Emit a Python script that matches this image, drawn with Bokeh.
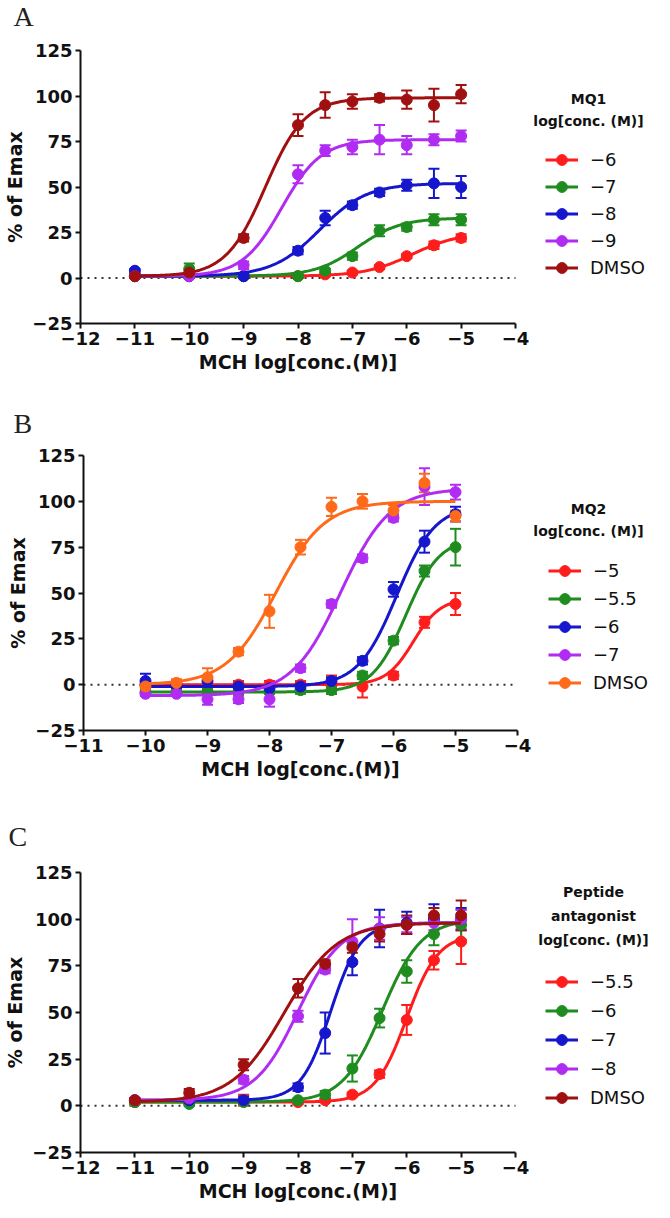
import numpy as np
from bokeh.plotting import figure
from bokeh.models import (Range1d, Whisker, TeeHead, Legend, LegendItem, Label,
                          ColumnDataSource, FixedTicker)
from bokeh.layouts import column
from bokeh.embed import file_html
from bokeh.resources import INLINE

# ---------------- data ----------------
# Panel A: MQ1
a_x = [-11, -10, -9, -8, -7.5, -7, -6.5, -6, -5.5, -5]
a_m6_y = [1, 1, 1, 1, 2, 3, 6, 12, 18, 22]
a_m6_err = [1, 1, 1, 1, 1, 1, 1, 1, 2, 2]
a_m7_y = [1, 5, 1, 1, 4, 12, 26, 28, 32, 32]
a_m7_err = [1, 3, 1, 1, 1, 2, 3, 2, 3, 3]
a_m8_y = [4, 1, 1, 15, 33, 40, 47, 51, 52, 50]
a_m8_err = [1, 1, 1, 2, 4, 2, 2, 3, 8, 6]
a_m9_y = [1, 1, 7, 57, 70, 72, 76, 73, 76, 78]
a_m9_err = [1, 1, 2, 5, 3, 4, 8, 5, 3, 3]
a_dmso_y = [1, 3, 22, 84, 95, 97, 99, 98, 95, 101]
a_dmso_err = [1, 2, 2, 6, 7, 4, 2, 5, 9, 5]
# fitted curve parameters: bottom, top, logEC50, hill
a_m6_fit = [1, 25, -5.9, 1.0]
a_m7_fit = [1, 33, -6.9, 1.1]
a_m8_fit = [1, 52, -7.6, 1.0]
a_m9_fit = [1, 76, -8.3, 1.2]
a_dmso_fit = [1, 99, -8.6, 1.2]
a_labels = ["\u22126", "\u22127", "\u22128", "\u22129", "DMSO"]

# Panel B: MQ2
b_x = [-10, -9.5, -9, -8.5, -8, -7.5, -7, -6.5, -6, -5.5, -5]
b_m5_y = [0, 0, 0, 0, 0, 0, 0, -1, 5, 34, 44]
b_m5_err = [2, 2, 2, 2, 2, 2, 5, 6, 2, 3, 6]
b_m55_y = [-4, -4, -4, -4, -4, -3, -3, 5, 24, 62, 75]
b_m55_err = [1, 1, 1, 1, 1, 2, 2, 2, 2, 3, 10]
b_m6_y = [2, 0, 2, -1, -2, -1, 2, 13, 52, 78, 93]
b_m6_err = [4, 2, 2, 2, 2, 2, 2, 2, 4, 6, 4]
b_m7_y = [-5, -5, -8, -8, -8, 9, 44, 69, 91, 108, 105]
b_m7_err = [1, 1, 3, 2, 4, 2, 2, 2, 2, 10, 4]
b_dmso_y = [-1, 1, 4, 18, 40, 75, 97, 100, 95, 110, 92]
b_dmso_err = [2, 2, 5, 2, 9, 4, 5, 4, 3, 5, 3]
b_m5_fit = [0, 47, -5.68, 2.0]
b_m55_fit = [-4, 80, -5.8, 1.6]
b_m6_fit = [-1, 98, -5.95, 1.4]
b_m7_fit = [-6, 107, -6.85, 1.1]
b_dmso_fit = [0, 100, -7.9, 1.1]
b_labels = ["\u22125", "\u22125.5", "\u22126", "\u22127", "DMSO"]

# Panel C: peptide antagonist
c_x = [-11, -10, -9, -8, -7.5, -7, -6.5, -6, -5.5, -5]
c_m55_y = [2, 2, 3, 2, 3, 6, 17, 46, 78, 88]
c_m55_err = [1, 1, 3, 1, 1, 1, 2, 8, 5, 12]
c_m6_y = [2, 1, 2, 3, 6, 20, 47, 72, 92, 97]
c_m6_err = [1, 1, 1, 1, 2, 7, 5, 6, 6, 8]
c_m7_y = [3, 3, 3, 10, 39, 77, 95, 98, 100, 100]
c_m7_err = [1, 1, 2, 2, 11, 7, 10, 6, 8, 6]
c_m8_y = [3, 4, 14, 48, 73, 88, 95, 97, 98, 100]
c_m8_err = [1, 1, 2, 3, 2, 12, 6, 4, 4, 5]
c_dmso_y = [3, 7, 22, 63, 76, 85, 92, 97, 102, 102]
c_dmso_err = [1, 2, 3, 5, 2, 3, 4, 5, 4, 8]
c_m55_fit = [2, 92, -6.0, 1.5]
c_m6_fit = [2, 100, -6.45, 1.2]
c_m7_fit = [3, 98, -7.4, 1.6]
c_m8_fit = [3, 98, -8.0, 1.1]
c_dmso_fit = [2, 98, -8.25, 0.9]
c_labels = ["\u22125.5", "\u22126", "\u22127", "\u22128", "DMSO"]

y_axis_range = (-25, 125)
y_ticks = [-25, 0, 25, 50, 75, 100, 125]
ac_x_range = (-12, -4)
ac_x_ticks = [-12, -11, -10, -9, -8, -7, -6, -5, -4]
b_x_range = (-11, -4)
b_x_ticks = [-11, -10, -9, -8, -7, -6, -5, -4]

RED = "#ff1c1c"
GREEN = "#1f8c1f"
BLUE = "#1616cc"
VIOLET = "#b02cf2"
DARKRED = "#a01010"
ORANGE = "#ff6a1a"

FONT = "DejaVu Sans"
FIG_W = 660


def minus(v):
    return ("%g" % v).replace("-", "\u2212")


def make_panel(letter, xs, series, xr, x_ticks, height, page_top,
               ax_left, ax_right, ax_top, ax_bottom,
               title_lines, title_x, title_ys, leg_loc, leg_spacing, letter_pos):
    # ax_* : picture pixel positions of the axis ends (frame fills the whole figure)
    ppx = (ax_right - ax_left) / (xr[1] - xr[0])
    ppy = (ax_bottom - ax_top) / (y_axis_range[1] - y_axis_range[0])
    x0 = xr[0] - ax_left / ppx
    x1 = x0 + FIG_W / ppx
    y1 = y_axis_range[1] + (ax_top - page_top) / ppy
    y0 = y1 - height / ppy

    p = figure(width=FIG_W, height=height, x_range=Range1d(x0, x1), y_range=Range1d(y0, y1),
               output_backend="svg", toolbar_location=None, min_border=0,
               min_border_top=0, min_border_bottom=0, min_border_left=0, min_border_right=0)
    p.outline_line_color = None
    p.xgrid.visible = False
    p.ygrid.visible = False
    p.background_fill_color = "white"
    p.border_fill_color = "white"

    p.xaxis.fixed_location = y_axis_range[0]
    p.yaxis.fixed_location = xr[0]
    p.xaxis.bounds = xr
    p.yaxis.bounds = y_axis_range
    p.xaxis.ticker = FixedTicker(ticks=x_ticks)
    p.yaxis.ticker = FixedTicker(ticks=y_ticks)
    p.xaxis.major_label_overrides = {t: minus(t) for t in x_ticks}
    p.yaxis.major_label_overrides = {t: minus(t) for t in y_ticks}
    p.xaxis.axis_label = "MCH log[conc.(M)]"
    p.yaxis.axis_label = "% of Emax"
    for ax in (p.xaxis[0], p.yaxis[0]):
        ax.axis_line_width = 2
        ax.axis_line_color = "#111111"
        ax.major_tick_line_width = 2
        ax.major_tick_line_color = "#111111"
        ax.major_tick_out = 5
        ax.major_tick_in = 0
        ax.minor_tick_out = 0
        ax.minor_tick_in = 0
        ax.major_label_text_font = FONT
        ax.major_label_text_font_style = "bold"
        ax.major_label_text_font_size = "18px"
        ax.major_label_text_color = "#111111"
        ax.major_label_standoff = 3
        ax.axis_label_text_font = FONT
        ax.axis_label_text_font_style = "bold"
        ax.axis_label_text_font_size = "19px"
        ax.axis_label_text_color = "#111111"
        ax.axis_label_standoff = 3

    # dotted zero line across the x axis extent
    p.line(list(xr), [0, 0], line_color="#333333", line_dash="2 5", line_width=2)

    items = []
    xf = np.linspace(min(xs), max(xs), 300)
    for label, color, ys, errs, fit in series:
        bot, top, ec, hill = fit
        yf = bot + (top - bot) / (1 + 10 ** ((ec - xf) * hill))
        ln = p.line(xf, yf, line_color=color, line_width=3)
        lower = [y - e for y, e in zip(ys, errs)]
        upper = [y + e for y, e in zip(ys, errs)]
        src = ColumnDataSource(dict(x=xs, lower=lower, upper=upper))
        w = Whisker(source=src, base="x", lower="lower", upper="upper",
                    line_color=color, line_width=2,
                    upper_head=TeeHead(size=11, line_color=color, line_width=2),
                    lower_head=TeeHead(size=11, line_color=color, line_width=2))
        p.add_layout(w)
        sc = p.scatter(xs, ys, size=11, fill_color=color, line_color=color)
        items.append(LegendItem(label=label, renderers=[ln, sc]))

    leg = Legend(items=items, location=leg_loc, orientation="vertical",
                 glyph_width=33, glyph_height=27, label_height=27, label_standoff=12,
                 spacing=leg_spacing, padding=0, margin=0,
                 border_line_color=None, background_fill_alpha=0,
                 label_text_font=FONT, label_text_font_size="18px",
                 label_text_color="#111111")
    p.add_layout(leg)

    for txt, ty in zip(title_lines, title_ys):
        p.add_layout(Label(x=title_x, y=ty, x_units="screen", y_units="screen", text=txt,
                           text_font=FONT, text_font_style="bold", text_font_size="14px",
                           text_align="center", text_baseline="middle", text_color="#111111"))

    p.add_layout(Label(x=letter_pos[0], y=letter_pos[1], x_units="screen", y_units="screen",
                       text=letter, text_font="Liberation Serif", text_font_size="28px",
                       text_align="left", text_baseline="middle", text_color="#222222"))
    return p


# figure A: picture y 0..396, figure B: 396..804, figure C: 804..1214
pa = make_panel("A", a_x,
                [(a_labels[0], RED, a_m6_y, a_m6_err, a_m6_fit),
                 (a_labels[1], GREEN, a_m7_y, a_m7_err, a_m7_fit),
                 (a_labels[2], BLUE, a_m8_y, a_m8_err, a_m8_fit),
                 (a_labels[3], VIOLET, a_m9_y, a_m9_err, a_m9_fit),
                 (a_labels[4], DARKRED, a_dmso_y, a_dmso_err, a_dmso_fit)],
                ac_x_range, ac_x_ticks, 396, 0, 80, 515, 50, 323,
                ["MQ1", "log[conc. (M)]"], 588, [298, 276], (545, 115), 0, (13, 380))

pb = make_panel("B", b_x,
                [(b_labels[0], RED, b_m5_y, b_m5_err, b_m5_fit),
                 (b_labels[1], GREEN, b_m55_y, b_m55_err, b_m55_fit),
                 (b_labels[2], BLUE, b_m6_y, b_m6_err, b_m6_fit),
                 (b_labels[3], VIOLET, b_m7_y, b_m7_err, b_m7_fit),
                 (b_labels[4], ORANGE, b_dmso_y, b_dmso_err, b_dmso_fit)],
                b_x_range, b_x_ticks, 408, 396, 83, 517, 455, 730,
                ["MQ2", "log[conc. (M)]"], 588, [296, 274], (548, 108), 1, (13, 381))

pc = make_panel("C", c_x,
                [(c_labels[0], RED, c_m55_y, c_m55_err, c_m55_fit),
                 (c_labels[1], GREEN, c_m6_y, c_m6_err, c_m6_fit),
                 (c_labels[2], BLUE, c_m7_y, c_m7_err, c_m7_fit),
                 (c_labels[3], VIOLET, c_m8_y, c_m8_err, c_m8_fit),
                 (c_labels[4], DARKRED, c_dmso_y, c_dmso_err, c_dmso_fit)],
                ac_x_range, ac_x_ticks, 410, 804, 80, 515, 872, 1152,
                ["Peptide", "antagonist", "log[conc. (M)]"], 593, [323, 299, 275], (545, 103), 2,
                (8, 378))

layout = column(pa, pb, pc, spacing=0)
open("out.html", "w").write(file_html(layout, INLINE))
